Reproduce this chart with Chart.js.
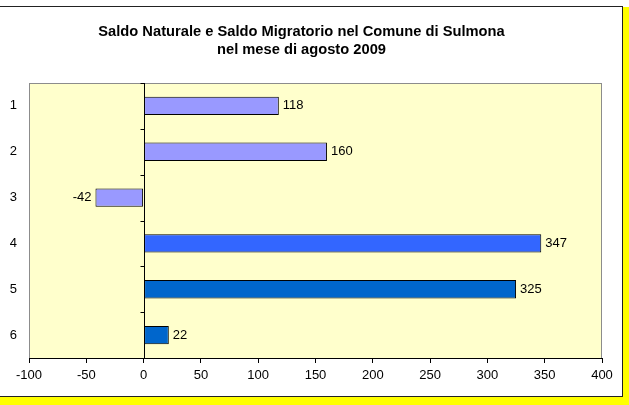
<!DOCTYPE html>
<html>
<head>
<meta charset="utf-8">
<script src="https://cdn.jsdelivr.net/npm/chart.js@4/dist/chart.umd.min.js"></script>
<style>
  html, body { margin: 0; padding: 0; background: #fff; }
  #shadow { position: absolute; left: 0; top: 7px; width: 629px; height: 398px; background: #ffff00; }
  #box { position: absolute; left: -1px; top: 6px; width: 622px; height: 389px; background: #fff; border: 1px solid #222; }
  #wrap { position: absolute; left: 1px; top: 0; width: 621px; height: 389px; }
</style>
</head>
<body>
<div id="shadow"></div>
<div id="box"><div id="wrap"><canvas id="chart"></canvas></div></div>
<script>
const categories = ['1', '2', '3', '4', '5', '6'];
const values = [118, 160, -42, 347, 325, 22];
const barColors = ['#9999ff', '#9999ff', '#9999ff', '#3366ff', '#0066cc', '#0066cc'];
const titleLines = ['Saldo Naturale e Saldo Migratorio nel Comune di Sulmona', 'nel mese di agosto 2009'];

const FONT = "'Liberation Sans', Arial, sans-serif";
Chart.defaults.font.family = FONT;
Chart.defaults.color = '#000';

// plot background + frame, zero line with its little ticks
const plotArea = {
    id: 'plotArea',
    beforeDraw(chart) {
        const { ctx, chartArea: a } = chart;
        ctx.save();
        ctx.fillStyle = '#ffffcc';
        ctx.fillRect(a.left, a.top, a.right - a.left, a.bottom - a.top);
        ctx.strokeStyle = '#8c8c8c';
        ctx.lineWidth = 1;
        ctx.strokeRect(a.left + 0.5, a.top + 0.5, a.right - a.left - 1, a.bottom - a.top);
        ctx.restore();
    },
    beforeDatasetsDraw(chart) {
        const { ctx, chartArea: a, scales } = chart;
        const x0 = Math.round(scales.x.getPixelForValue(0)) + 0.5;
        const step = (a.bottom - a.top) / categories.length;
        ctx.save();
        ctx.strokeStyle = '#000';
        ctx.lineWidth = 1;
        ctx.beginPath();
        ctx.moveTo(x0, a.top);
        ctx.lineTo(x0, a.bottom);
        for (let i = 0; i <= categories.length; i++) {
            const y = Math.round(a.top + i * step) + 0.5;
            ctx.moveTo(x0 - 4, y);
            ctx.lineTo(x0, y);
        }
        ctx.stroke();
        ctx.restore();
    }
};

const valueLabels = {
    id: 'valueLabels',
    afterDatasetsDraw(chart) {
        const { ctx } = chart;
        const meta = chart.getDatasetMeta(0);
        ctx.save();
        ctx.font = '13px ' + FONT;
        ctx.fillStyle = '#000';
        ctx.textBaseline = 'middle';
        meta.data.forEach((bar, i) => {
            const v = values[i];
            if (v < 0) {
                ctx.textAlign = 'right';
                ctx.fillText(String(v), bar.x - 4, bar.y);
            } else {
                ctx.textAlign = 'left';
                ctx.fillText(String(v), bar.x + 4, bar.y);
            }
        });
        ctx.restore();
    }
};

new Chart(document.getElementById('chart'), {
    type: 'bar',
    data: {
        labels: categories,
        datasets: [{
            data: values,
            backgroundColor: barColors,
            borderColor: '#000',
            borderWidth: 1,
            borderSkipped: false,
            categoryPercentage: 1,
            barPercentage: 0.4
        }]
    },
    options: {
        indexAxis: 'y',
        responsive: true,
        maintainAspectRatio: false,
        animation: false,
        layout: { padding: { left: 0, right: 20, top: 0, bottom: 0 } },
        plugins: {
            legend: { display: false },
            tooltip: { enabled: false },
            title: {
                display: true,
                text: titleLines,
                font: { size: 14.7, weight: 'bold', family: FONT, lineHeight: 18 / 14.7 },
                color: '#000',
                padding: { top: 16, bottom: 24 }
            }
        },
        scales: {
            x: {
                min: -100,
                max: 400,
                ticks: { stepSize: 50, font: { size: 13 }, padding: 5, maxRotation: 0 },
                grid: { drawOnChartArea: false, drawTicks: true, tickLength: 5, color: '#000' },
                border: { color: '#000' },
                afterFit(scale) { scale.height = 38; }
            },
            y: {
                ticks: { font: { size: 13 }, padding: 12 },
                grid: { display: false, drawTicks: false },
                border: { display: false },
                afterFit(scale) { scale.width = 28; }
            }
        }
    },
    plugins: [plotArea, valueLabels]
});
</script>
</body>
</html>
